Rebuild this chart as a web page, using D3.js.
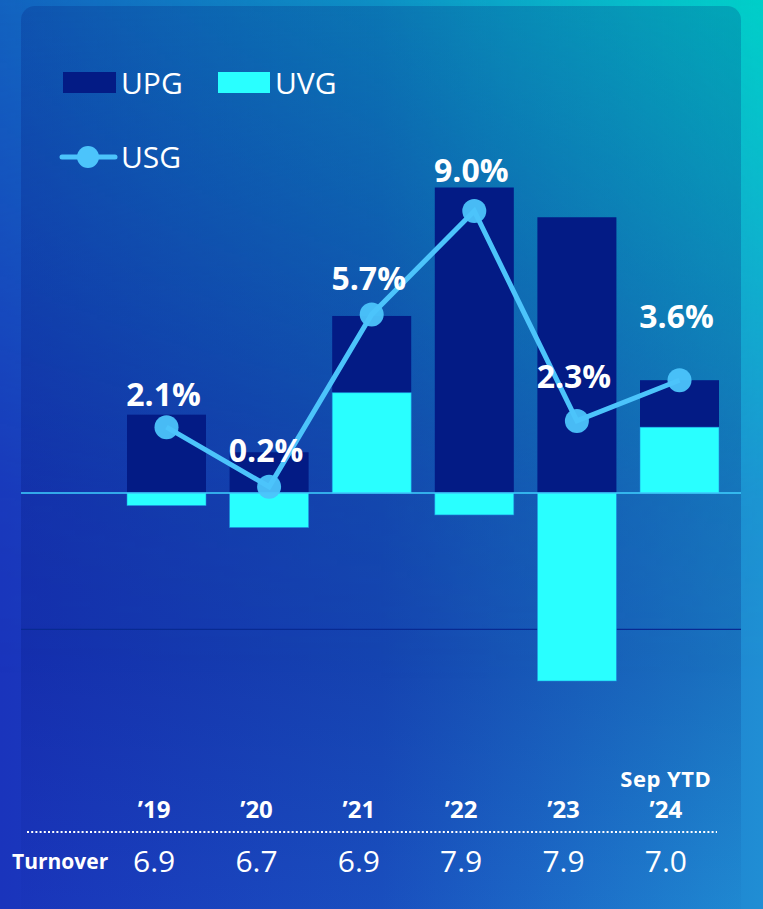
<!DOCTYPE html>
<html>
<head>
<meta charset="utf-8">
<script src="https://cdn.jsdelivr.net/npm/d3@7"></script>
<style>
  html, body { margin: 0; padding: 0; background: #1a40c0; }
  svg { display: block; }
  text { font-family: "Open Sans", "Noto Sans", sans-serif; fill: #ffffff; }
</style>
</head>
<body>
<svg id="chart" width="763" height="909"></svg>
<script>
// Growth components by year (percentage points)
const years = ["’19", "’20", "’21", "’22", "’23", "’24"];
const yearNotes = ["", "", "", "", "", "Sep YTD"];
const upg = [2.5, 1.3, 2.45, 9.75, 8.8, 1.5];
const uvg = [-0.4, -1.1, 3.2, -0.7, -6.0, 2.1];
const usg = [2.1, 0.2, 5.7, 9.0, 2.3, 3.6];
const usgLabels = ["2.1%", "0.2%", "5.7%", "9.0%", "2.3%", "3.6%"];
const turnover = ["6.9", "6.7", "6.9", "7.9", "7.9", "7.0"];

// extra lift for the percentage labels above each point (px)
const labelLift = [21, 25, 24, 29, 33, 52];

const W = 763, H = 909;
const C = { upg: "#031b85", uvg: "#29ffff", usg: "#4cc4fb" };

const svg = d3.select("#chart");
const defs = svg.append("defs");

// background: deep blue base, teal wash across the top growing to the right
const base = defs.append("linearGradient").attr("id", "bgBase")
  .attr("x1", 0).attr("y1", 0).attr("x2", 1).attr("y2", 0);
base.append("stop").attr("offset", 0).attr("stop-color", "#1a34bc");
base.append("stop").attr("offset", 0.5).attr("stop-color", "#1a50c0");
base.append("stop").attr("offset", 1).attr("stop-color", "#208ed4");

const teal = defs.append("linearGradient").attr("id", "tealH")
  .attr("x1", 0).attr("y1", 0).attr("x2", 1).attr("y2", 0);
[[0, 0.3], [0.5, 0.5], [0.8, 0.75], [1, 1]].forEach(([o, a]) =>
  teal.append("stop").attr("offset", o).attr("stop-color", "#00cfc8").attr("stop-opacity", a));

const fadeV = defs.append("linearGradient").attr("id", "fadeV")
  .attr("x1", 0).attr("y1", 0).attr("x2", 0).attr("y2", 1);
[[0, 1], [0.25, 0.6], [0.55, 0.12], [0.75, 0]].forEach(([o, a]) =>
  fadeV.append("stop").attr("offset", o).attr("stop-color", "#ffffff").attr("stop-opacity", a));
defs.append("mask").attr("id", "tealMask")
  .append("rect").attr("width", W).attr("height", H).attr("fill", "url(#fadeV)");

const card = defs.append("linearGradient").attr("id", "cardShade")
  .attr("x1", 0).attr("y1", 0).attr("x2", 0).attr("y2", 1);
card.append("stop").attr("offset", 0).attr("stop-color", "#001070").attr("stop-opacity", 0.2);
card.append("stop").attr("offset", 0.45).attr("stop-color", "#001070").attr("stop-opacity", 0.24);
card.append("stop").attr("offset", 0.7).attr("stop-color", "#001070").attr("stop-opacity", 0.2);
card.append("stop").attr("offset", 1).attr("stop-color", "#001070").attr("stop-opacity", 0);

svg.append("rect").attr("width", W).attr("height", H).attr("fill", "url(#bgBase)");
svg.append("rect").attr("width", W).attr("height", H).attr("fill", "url(#tealH)")
  .attr("mask", "url(#tealMask)");
svg.append("rect").attr("x", 21).attr("y", 6).attr("width", 720).attr("height", H + 20)
  .attr("rx", 14).attr("fill", "url(#cardShade)");

// scales
const x = d3.scaleBand().domain(years).range([115.2, 730.8]).paddingInner(0.23).paddingOuter(0.115);
const xTable = d3.scaleBand().domain(years).range([103, 717]);
const y = d3.scaleLinear().domain([-6, 9]).range([681, 211]);

// lower reference line
svg.append("line").attr("x1", 21).attr("x2", 741)
  .attr("y1", y(-4.35)).attr("y2", y(-4.35))
  .attr("stroke", "#082a92").attr("stroke-width", 1.2);

// stacked bars: UVG from zero, UPG stacked on positive UVG
const rows = years.map((yr, i) => ({ yr, upg: upg[i], uvg: uvg[i], usg: usg[i], label: usgLabels[i], lift: labelLift[i] }));

const bars = svg.append("g");
bars.selectAll("rect.upg").data(rows).join("rect").attr("class", "upg")
  .attr("x", d => x(d.yr)).attr("width", x.bandwidth())
  .attr("y", d => { const b = Math.max(0, d.uvg); return y(b + d.upg); })
  .attr("height", d => { const b = Math.max(0, d.uvg); return y(b) - y(b + d.upg); })
  .attr("fill", C.upg);
bars.selectAll("rect.uvg").data(rows).join("rect").attr("class", "uvg")
  .attr("x", d => x(d.yr)).attr("width", x.bandwidth())
  .attr("y", d => y(Math.max(0, d.uvg)))
  .attr("height", d => Math.abs(y(d.uvg) - y(0)))
  .attr("fill", C.uvg).attr("stroke", "#1c8ee0").attr("stroke-width", 0.8).attr("stroke-opacity", 0.7);

// zero line
svg.append("line").attr("x1", 21).attr("x2", 741).attr("y1", y(0)).attr("y2", y(0))
  .attr("stroke", "#3fd0ff").attr("stroke-width", 1.4);

// USG line and points
const cx = d => x(d.yr) + x.bandwidth() / 2;
svg.append("path").datum(rows)
  .attr("d", d3.line().x(cx).y(d => y(d.usg)))
  .attr("fill", "none").attr("stroke", C.usg).attr("stroke-width", 5);
svg.selectAll("circle.pt").data(rows).join("circle").attr("class", "pt")
  .attr("cx", cx).attr("cy", d => y(d.usg)).attr("r", 12)
  .attr("fill", C.usg).attr("fill-opacity", 0.95);

// value labels
svg.selectAll("text.val").data(rows).join("text").attr("class", "val")
  .attr("x", d => cx(d) - 3).attr("y", d => y(d.usg) - d.lift)
  .attr("text-anchor", "middle").attr("font-size", 32).attr("font-weight", 700)
  .text(d => d.label);

// legend
const lg = svg.append("g");
lg.append("rect").attr("x", 63).attr("y", 72).attr("width", 53).attr("height", 21).attr("fill", C.upg);
lg.append("text").attr("x", 121).attr("y", 94).attr("font-size", 30).text("UPG");
lg.append("rect").attr("x", 218).attr("y", 72).attr("width", 52).attr("height", 21).attr("fill", C.uvg);
lg.append("text").attr("x", 275).attr("y", 94).attr("font-size", 30).text("UVG");
lg.append("line").attr("x1", 62).attr("x2", 115).attr("y1", 157).attr("y2", 157)
  .attr("stroke", C.usg).attr("stroke-width", 5).attr("stroke-linecap", "round");
lg.append("circle").attr("cx", 88).attr("cy", 157).attr("r", 11).attr("fill", C.usg);
lg.append("text").attr("x", 121).attr("y", 168).attr("font-size", 30).text("USG");

// year header
const tx = d => xTable(d) + xTable.bandwidth() / 2;
svg.selectAll("text.yr").data(years).join("text").attr("class", "yr")
  .attr("x", tx).attr("y", 818).attr("text-anchor", "middle")
  .attr("font-size", 24).attr("font-weight", 700).text(d => d);
svg.selectAll("text.note").data(years.map((d, i) => ({ d, n: yearNotes[i] })).filter(o => o.n))
  .join("text").attr("class", "note")
  .attr("x", o => tx(o.d)).attr("y", 787).attr("text-anchor", "middle")
  .attr("font-size", 22).attr("font-weight", 700).attr("letter-spacing", 0.5).text(o => o.n);

// dotted separator
svg.append("line").attr("x1", 27).attr("x2", 717).attr("y1", 832).attr("y2", 832)
  .attr("stroke", "#ffffff").attr("stroke-width", 2).attr("stroke-dasharray", "2 2.2");

// turnover row
svg.append("text").attr("x", 12).attr("y", 869).attr("font-size", 21).attr("font-weight", 700).text("Turnover");
svg.selectAll("text.turn").data(years.map((d, i) => ({ d, v: turnover[i] })))
  .join("text").attr("class", "turn")
  .attr("x", o => tx(o.d)).attr("y", 872).attr("text-anchor", "middle")
  .attr("font-size", 30).attr("font-weight", 400).text(o => o.v);
</script>
</body>
</html>
